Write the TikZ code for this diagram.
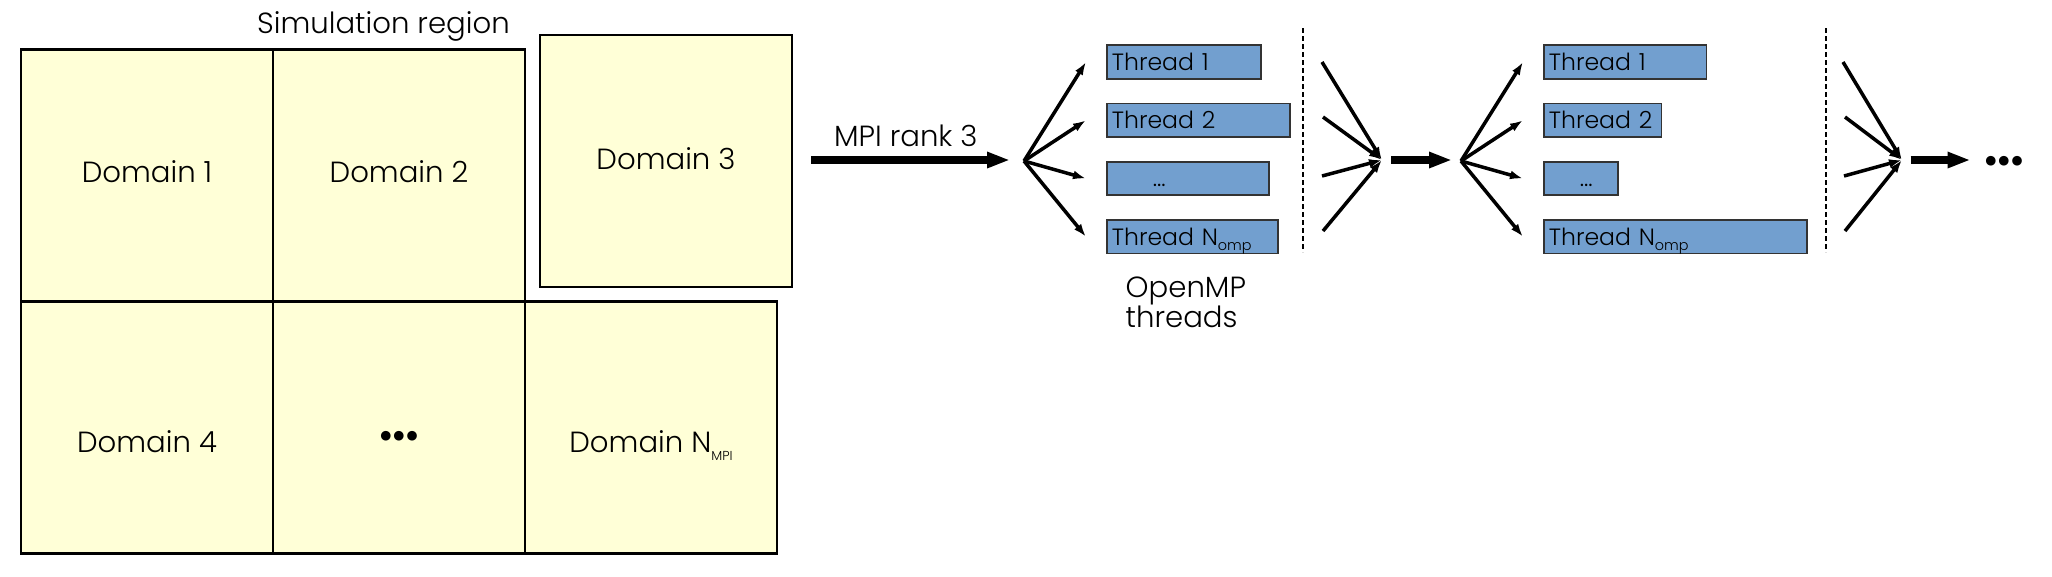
\documentclass[tikz,border=0pt]{standalone}
\usepackage{fontspec}
\setmainfont{Poppins}[UprightFont={* Light}]
\newfontfamily\symfont{DejaVu Sans}
\usepackage{xcolor}
\usepackage{tikz}
\usetikzlibrary{arrows.meta,positioning}

\definecolor{domyellow}{RGB}{255,255,215}
\definecolor{thrblue}{RGB}{114,159,207}
\newcommand{\bigtext}{\fontsize{8.3}{8.6}\selectfont}
\newcommand{\thrtext}{\fontsize{6.7}{7.5}\selectfont}
\newcommand{\moredots}{{\symfont\fontsize{3.6}{4}\selectfont ●\kern0.2mm●\kern0.2mm●}}
\newcommand{\lowsub}[3]{\raisebox{-#2}{\fontsize{#1}{#1}\selectfont #3}}

\begin{document}
\begin{tikzpicture}[
  x=0.1mm, y=-0.1mm,
  dom/.style={rectangle,draw,line width=0.7pt,fill=domyellow,minimum width=25.2mm,minimum height=25.2mm,inner sep=0pt,outer sep=0pt,font=\bigtext},
  toprow/.style={text height=2mm,text depth=0.7mm},
  lowrow/.style={text height=4.9mm,text depth=0mm},
  thr/.style={rectangle,draw=black!80,line width=0.5pt,fill=thrblue,anchor=west,minimum height=3.35mm,inner xsep=0.5mm,inner ysep=0pt,text height=1.65mm,text depth=0pt,align=left,text width=#1,font=\thrtext},
  lbl/.style={font=\bigtext,inner sep=0pt},
  arr/.style={-{Latex[length=1.3mm,width=0.9mm]},line width=1pt},
  fat/.style={-{Triangle[length=2.3mm,width=1.5mm]},line width=2.1pt},
  sep/.style={line width=0.57pt,dash pattern=on 0.5mm off 0.3mm}
]
\useasboundingbox (0,0) rectangle (2052,576);

% simulation region split into MPI domains
\node[lbl,anchor=base] (simlabel) at (383.5,33) {Simulation region};
\node[dom,toprow] (d1) at (147,175.5) {Domain 1};
\node[dom,toprow,right=0pt of d1] (d2) {Domain 2};
\node[dom,lowrow,below=0pt of d1] (d4) {Domain 4};
\node[dom,text height=2.3mm,text depth=0mm,right=0pt of d4] (d5) {\moredots};
\node[dom,lowrow,right=0pt of d5] (dn) {Domain N\lowsub{3.7pt}{2.3pt}{MPI}};
\node[dom,text height=2mm,text depth=0.26mm,right=1.5mm of d2,yshift=1.45mm] (d3) {Domain 3};

% rank 3 goes to the threads
\node[lbl,anchor=base] (mpi) at (905.8,146.7) {MPI rank 3};
\coordinate (a1s) at (811,160);
\coordinate (a1e) at (1010,160);
\coordinate (fan1) at (1024,161);
\draw[fat] (a1s) -- (a1e);

\node[thr=14.4mm] (t1) at (1106,62) {Thread 1};
\node[thr=17.3mm,below right=2.3mm and 0mm of t1.south west] (t2) {Thread 2};
\node[thr=15.2mm,below right=2.3mm and 0mm of t2.south west] (t3) {\hspace*{4.1mm}...};
\node[thr=16.1mm,below right=2.3mm and 0mm of t3.south west] (t4) {Thread N\lowsub{4.1pt}{1.6pt}{omp}};
\node[lbl,align=left,anchor=north west] (omp) at (1125,276) {OpenMP\\threads};

\path (fan1) edge[arr] ([xshift=-2mm]t1.west) edge[arr] ([xshift=-2mm]t2.west)
             edge[arr] ([xshift=-2mm]t3.west) edge[arr] ([xshift=-2mm]t4.west);
\draw[sep] (1303,28) -- (1303,252);

\coordinate (c1) at (1322,62);
\coordinate (c2) at (1323,117);
\coordinate (c3) at (1322,176);
\coordinate (c4) at (1323,231);
\coordinate (m1) at (1382,160);
\path (c1) edge[arr] (m1) (c2) edge[arr] (m1) (c3) edge[arr] (m1) (c4) edge[arr] (m1);

% next parallel region
\coordinate (a2s) at (1391,160);
\coordinate (a2e) at (1452,160);
\coordinate (fan2) at (1461,161);
\draw[fat] (a2s) -- (a2e);

\node[thr=15.25mm] (u1) at (1543,62) {Thread 1};
\node[thr=10.75mm,below right=2.3mm and 0mm of u1.south west] (u2) {Thread 2};
\node[thr=6.43mm,below right=2.3mm and 0mm of u2.south west] (u3) {\hspace*{3.1mm}...};
\node[thr=25.3mm,below right=2.3mm and 0mm of u3.south west] (u4) {Thread N\lowsub{4.1pt}{1.6pt}{omp}};

\path (fan2) edge[arr] ([xshift=-2mm]u1.west) edge[arr] ([xshift=-2mm]u2.west)
             edge[arr] ([xshift=-2mm]u3.west) edge[arr] ([xshift=-2mm]u4.west);
\draw[sep] (1826,28) -- (1826,252);

\coordinate (e1) at (1843,62);
\coordinate (e2) at (1845,117);
\coordinate (e3) at (1844,176);
\coordinate (e4) at (1845,231);
\coordinate (m2) at (1902,160);
\path (e1) edge[arr] (m2) (e2) edge[arr] (m2) (e3) edge[arr] (m2) (e4) edge[arr] (m2);

\coordinate (a3s) at (1910.6,160);
\coordinate (a3e) at (1970.5,160);
\draw[fat] (a3s) -- (a3e);
\node[inner sep=0pt] (more) at (2004,161) {\moredots};
\end{tikzpicture}
\end{document}
